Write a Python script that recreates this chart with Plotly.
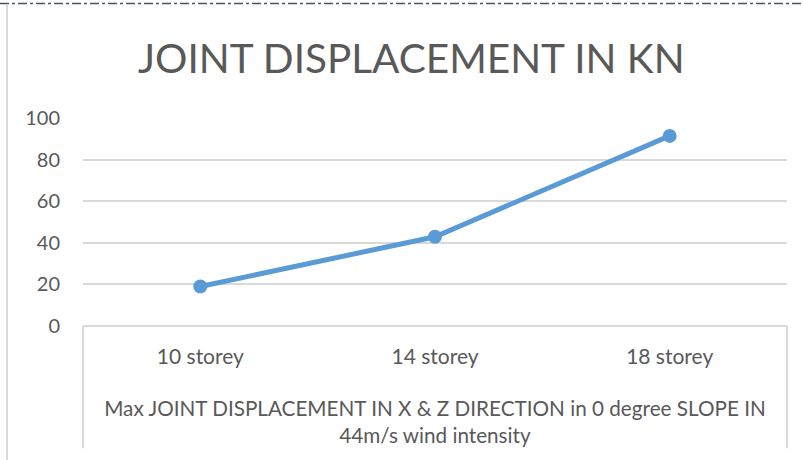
import plotly.graph_objects as go

categories = ["10 storey", "14 storey", "18 storey"]
values = [19.0, 42.9, 91.4]
y_ticks = [0, 20, 40, 60, 80, 100]

title_text = "JOINT DISPLACEMENT IN KN"
x_title = "Max JOINT DISPLACEMENT IN X &amp; Z DIRECTION in 0 degree SLOPE IN<br>44m/s wind intensity"

W, H = 803, 460
L, R, T, B = 83, 16, 117.5, 134.3
pw = W - L - R
ph = H - T - B

def px_x(x):
    return (x - L) / pw

def px_y(y):
    return (H - B - y) / ph

FONT = "Lato, 'Open Sans', sans-serif"
GRAY = "#595959"
GRID = "#D9D9D9"

fig = go.Figure()
fig.add_trace(go.Scatter(
    x=categories, y=values, mode="lines+markers",
    line=dict(color="#5B9BD5", width=5),
    marker=dict(color="#5B9BD5", size=14),
    showlegend=False,
))

fig.update_layout(
    width=W, height=H,
    margin=dict(l=L, r=R, t=T, b=B, pad=0),
    paper_bgcolor="white", plot_bgcolor="white",
    font=dict(family=FONT, color=GRAY),
    xaxis=dict(
        type="category", range=[-0.5, 2.5],
        showgrid=False, zeroline=False, showline=False,
        ticks="outside", ticklen=12, tickcolor="rgba(0,0,0,0)",
        tickfont=dict(size=21, color=GRAY, family=FONT),
        title=dict(text=x_title, font=dict(size=20.7, color=GRAY, family=FONT), standoff=34),
    ),
    yaxis=dict(
        range=[0, 100], tickvals=y_ticks,
        showgrid=True, gridcolor=GRID, gridwidth=1.5,
        zeroline=False, showline=False,
        ticks="outside", ticklen=18, tickcolor="rgba(0,0,0,0)",
        tickfont=dict(size=20, color=GRAY, family=FONT),
    ),
    annotations=[dict(
        text=title_text, xref="paper", yref="paper",
        x=px_x(411), y=px_y(57), xanchor="center", yanchor="middle",
        showarrow=False, font=dict(size=40.5, color=GRAY, family=FONT),
    )],
    shapes=[
        # axis box below plot
        dict(type="line", xref="paper", yref="paper", x0=0, x1=1, y0=0, y1=0,
             line=dict(color=GRID, width=2)),
        dict(type="line", xref="paper", yref="paper", x0=0, x1=0, y0=0, y1=px_y(448),
             line=dict(color=GRID, width=2)),
        dict(type="line", xref="paper", yref="paper", x0=1, x1=1, y0=0, y1=px_y(448),
             line=dict(color=GRID, width=2)),
        # outer chart border
        dict(type="line", xref="paper", yref="paper", x0=px_x(0), x1=px_x(W), y0=px_y(3), y1=px_y(3),
             line=dict(color="#44546A", width=1.5, dash="dashdot")),
        dict(type="line", xref="paper", yref="paper", x0=px_x(7), x1=px_x(7), y0=px_y(4), y1=px_y(H),
             line=dict(color=GRID, width=2)),
    ],
)

fig.write_html("out.html", config={"displayModeBar": False},
               post_script="document.body.style.margin='0';")
